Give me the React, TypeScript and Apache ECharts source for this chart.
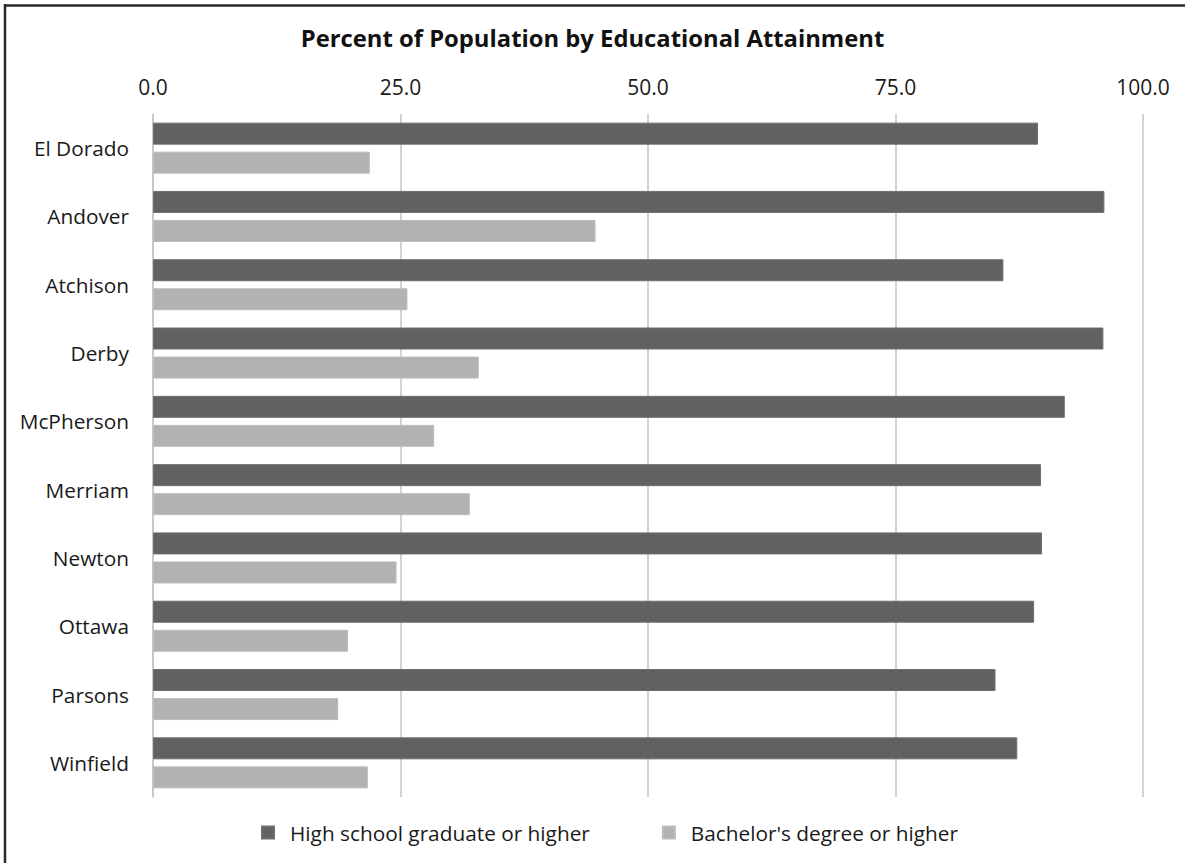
import React, { useEffect, useRef } from "react";
import * as echarts from "echarts";

const categories = [
  "El Dorado",
  "Andover",
  "Atchison",
  "Derby",
  "McPherson",
  "Merriam",
  "Newton",
  "Ottawa",
  "Parsons",
  "Winfield",
];
const highSchool = [89.4, 96.1, 85.9, 96.0, 92.1, 89.7, 89.8, 89.0, 85.1, 87.3];
const bachelor = [21.9, 44.7, 25.7, 32.9, 28.4, 32.0, 24.6, 19.7, 18.7, 21.7];
const seriesNames = ["High school graduate or higher", "Bachelor's degree or higher"];
const titleText = "Percent of Population by Educational Attainment";

const FONT = "'Open Sans', 'Noto Sans', sans-serif";

export default function App() {
  const ref = useRef<HTMLDivElement>(null);
  useEffect(() => {
    document.body.style.margin = "0";
    if (!ref.current) return;
    const chart = echarts.init(ref.current, null, { renderer: "svg" });
    chart.setOption({
      animation: false,
      backgroundColor: "#ffffff",
      title: {
        text: titleText,
        left: "center",
        top: 21,
        textStyle: { fontFamily: FONT, fontSize: 23.8, fontWeight: "bold", color: "#111111" },
      },
      legend: {
        bottom: 15,
        left: 256,
        icon: "rect",
        itemWidth: 12,
        itemHeight: 12,
        itemGap: 72,
        textStyle: { fontFamily: FONT, fontSize: 20.8, color: "#1a1a1a", padding: [0, 0, 0, 11] },
        data: seriesNames,
      },
      grid: { left: 153, right: 42, top: 114, bottom: 66, containLabel: false },
      xAxis: {
        type: "value",
        position: "top",
        min: 0,
        max: 100,
        interval: 25,
        axisLine: { show: false },
        axisTick: { show: false },
        axisLabel: {
          margin: 17,
          fontFamily: FONT,
          fontSize: 21,
          color: "#1a1a1a",
          formatter: (v: number) => v.toFixed(1),
        },
        splitLine: { show: true, lineStyle: { color: "#c4c4c4", width: 1.5 } },
      },
      yAxis: {
        type: "category",
        inverse: true,
        data: categories,
        axisLine: { show: true, lineStyle: { color: "#c4c4c4", width: 1.5 } },
        axisTick: { show: false },
        axisLabel: { margin: 24, fontFamily: FONT, fontSize: 20.8, color: "#1a1a1a" },
      },
      series: [
        {
          name: seriesNames[0],
          type: "bar",
          data: highSchool,
          barWidth: 22,
          barGap: "32%",
          itemStyle: { color: "#616161", borderColor: "#6e6e6e", borderWidth: 1 },
        },
        {
          name: seriesNames[1],
          type: "bar",
          data: bachelor,
          barWidth: 22,
          barGap: "32%",
          itemStyle: { color: "#b2b2b2", borderColor: "#bcbcbc", borderWidth: 1 },
        },
      ],
      graphic: [
        { type: "line", shape: { x1: 4, y1: 5.5, x2: 1185, y2: 5.5 }, style: { stroke: "#2a2a2a", lineWidth: 2.5 } },
        { type: "line", shape: { x1: 5, y1: 4, x2: 5, y2: 863 }, style: { stroke: "#2a2a2a", lineWidth: 2.5 } },
      ],
    });
    return () => chart.dispose();
  }, []);
  return <div ref={ref} style={{ width: 1185, height: 863 }} />;
}
